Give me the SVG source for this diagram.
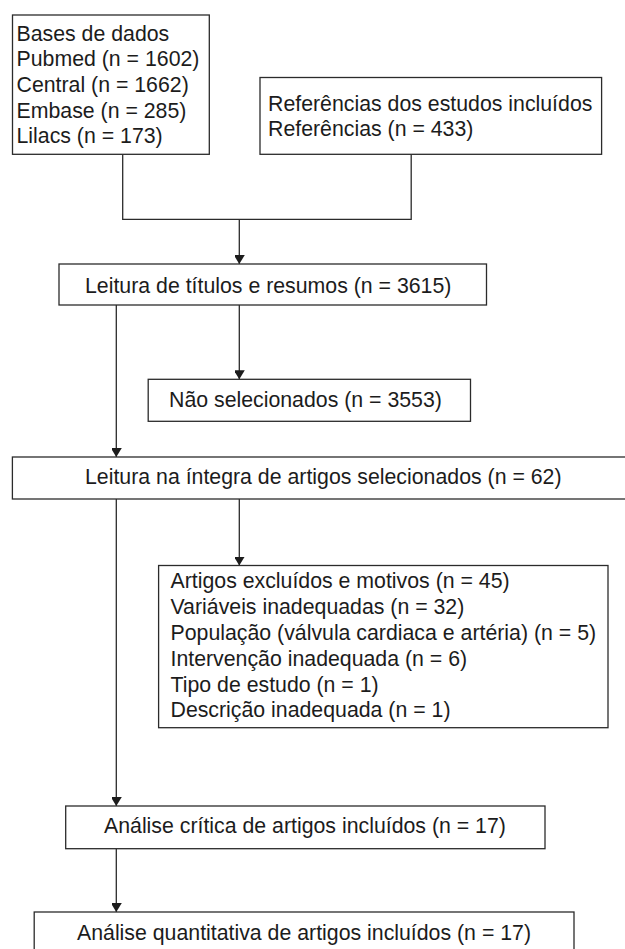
<svg xmlns="http://www.w3.org/2000/svg" width="625" height="949" viewBox="0 0 625 949">
<style>
rect.box{fill:#fff;stroke:#2b2b2b;stroke-width:1.3}
text{font-family:"Liberation Sans",Arial,Helvetica,sans-serif;font-size:21.3px;fill:#1c1c1c}
.conn path{fill:none;stroke:#2b2b2b;stroke-width:1.3}
</style>
<defs>
<marker id="arr" markerUnits="userSpaceOnUse" markerWidth="12" markerHeight="10" refX="9" refY="5.5" orient="auto">
<path d="M0,0 L9,5.5 L0,11 Z" fill="#1c1c1c"/>
</marker>
</defs>
<rect width="625" height="949" fill="#fff"/>
<g class="conn">
<path d="M122.7,154.3 V219.3 H411.2 V154.3"/>
<path d="M239.3,219.3 V264" marker-end="url(#arr)"/>
<path d="M116.3,305 V457" marker-end="url(#arr)"/>
<path d="M239.3,305 V379.3" marker-end="url(#arr)"/>
<path d="M116.3,499 V806" marker-end="url(#arr)"/>
<path d="M239.3,499 V565.5" marker-end="url(#arr)"/>
<path d="M116.3,848.7 V912" marker-end="url(#arr)"/>
</g>
<g id="bases">
<rect class="box" x="12.5" y="15" width="196.8" height="139.3"/>
<text x="16.5" y="40.5">Bases de dados</text>
<text x="16.5" y="66.2">Pubmed (n = 1602)</text>
<text x="16.5" y="91.9">Central (n = 1662)</text>
<text x="16.5" y="117.6">Embase (n = 285)</text>
<text x="16.5" y="143.3">Lilacs (n = 173)</text>
</g>
<g id="referencias">
<rect class="box" x="260" y="77.5" width="341.6" height="76.8"/>
<text x="268" y="110.5">Referências dos estudos incluídos</text>
<text x="268" y="136.2">Referências (n = 433)</text>
</g>
<g id="leitura-titulos">
<rect class="box" x="59" y="264" width="427.5" height="41"/>
<text x="85" y="292.7">Leitura de títulos e resumos (n = 3615)</text>
</g>
<g id="nao-selecionados">
<rect class="box" x="148.2" y="379.3" width="322.3" height="42"/>
<text x="169" y="407.3">Não selecionados (n = 3553)</text>
</g>
<g id="leitura-integra">
<rect class="box" x="12.4" y="457" width="620" height="42"/>
<text x="85" y="484">Leitura na íntegra de artigos selecionados (n = 62)</text>
</g>
<g id="excluidos">
<rect class="box" x="158.6" y="565.5" width="449.4" height="162.2"/>
<text x="170.5" y="588.3">Artigos excluídos e motivos (n = 45)</text>
<text x="170.5" y="614.1">Variáveis inadequadas (n = 32)</text>
<text x="170.5" y="639.9">População (válvula cardiaca e artéria) (n = 5)</text>
<text x="170.5" y="665.7">Intervenção inadequada (n = 6)</text>
<text x="170.5" y="691.5">Tipo de estudo (n = 1)</text>
<text x="170.5" y="717.3">Descrição inadequada (n = 1)</text>
</g>
<g id="analise-critica">
<rect class="box" x="65.7" y="806" width="479.3" height="42.7"/>
<text x="104" y="833.3">Análise crítica de artigos incluídos (n = 17)</text>
</g>
<g id="analise-quantitativa">
<rect class="box" x="34.2" y="912" width="539.8" height="48"/>
<text x="77" y="939.5">Análise quantitativa de artigos incluídos (n = 17)</text>
</g>
</svg>
